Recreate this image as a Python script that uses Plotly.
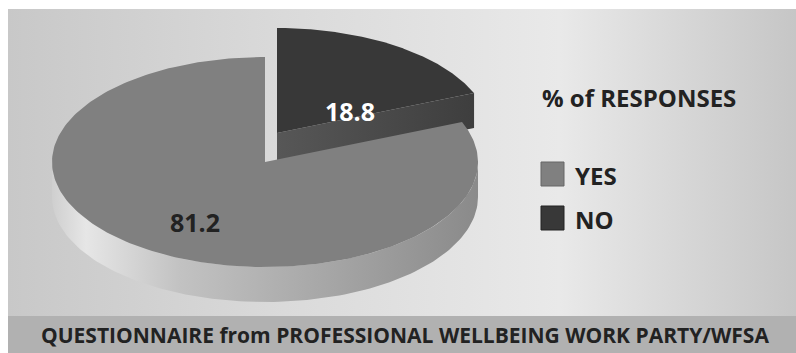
import numpy as np
import plotly.graph_objects as go

# Survey data
categories = ["YES", "NO"]
values = [81.2, 18.8]
slice_colors = ["#808080", "#383838"]
label_colors = ["#222222", "#ffffff"]
legend_title = "% of RESPONSES"
footer_text = "QUESTIONNAIRE from PROFESSIONAL WELLBEING WORK PARTY/WFSA"

# Canvas / pie geometry (pixels)
W, H = 796, 353
CX, CY = 265, 162          # pie centre
RA, RB = 213, 105          # ellipse radii (tilted disc)
DEPTH = 35                 # disc thickness
EXPLODE = {"NO": (12, -29)}
LABEL_POS = {"YES": (195, 222), "NO": (350, 111)}
FONT = "Open Sans"


def pt(theta_deg, dx=0.0, dy=0.0, down=0.0):
    t = np.radians(theta_deg)
    return CX + dx + RA * np.cos(t), CY + dy - RB * np.sin(t) + down


fig = go.Figure()

# background panels
fig.add_trace(go.Scatter(
    x=[8, W, W, 8, 8], y=[9, 9, 316, 316, 9], mode="lines", line=dict(width=0),
    fill="toself", hoverinfo="skip",
    fillgradient=dict(type="horizontal", colorscale=[
        [0, "#c8c8c8"], [0.35, "#dadada"], [0.7, "#e9e9e9"], [1, "#c6c6c6"]])))
fig.add_trace(go.Scatter(
    x=[8, W, W, 8, 8], y=[316, 316, H, H, 316], mode="lines", line=dict(width=0),
    fill="toself", fillcolor="#b1b1b1", hoverinfo="skip"))

# slice angles: counter-clockwise from 12 o'clock
total = sum(values)
starts, ends = [], []
a0 = 90.0
for v in values:
    starts.append(a0)
    a0 += 360.0 * v / total
    ends.append(a0)

for cat, v, col, s, e in zip(categories, values, slice_colors, starts, ends):
    dx, dy = EXPLODE.get(cat, (0, 0))
    # front curved wall (visible where the rim faces the viewer)
    lo, hi = max(s, 180.0), min(e, 360.0)
    if hi > lo:
        th = np.linspace(lo, hi, 120)
        xt, yt = pt(th, dx, dy)
        xb, yb = pt(th[::-1], dx, dy, DEPTH)
        fig.add_trace(go.Scatter(
            x=np.r_[xt, xb, xt[:1]], y=np.r_[yt, yb, yt[:1]], mode="lines",
            line=dict(width=0), fill="toself", hoverinfo="skip",
            fillgradient=dict(type="horizontal", colorscale=[
                [0, "#cfcfcf"], [0.08, "#e6e6e6"], [0.3, "#c2c2c2"],
                [0.6, "#aaaaaa"], [1, "#8a8a8a"]])))
    # radial cut face at the slice's start edge (front-facing when exploded)
    if cat in EXPLODE:
        ang = s % 360
        ex, ey = pt(ang, dx, dy)
        cx0, cy0 = CX + dx, CY + dy
        fig.add_trace(go.Scatter(
            x=[cx0, ex, ex, cx0, cx0], y=[cy0, ey, ey + DEPTH, cy0 + DEPTH, cy0],
            mode="lines", line=dict(width=0), fill="toself", hoverinfo="skip",
            fillgradient=dict(type="horizontal", colorscale=[
                [0, "#575757"], [1, "#3e3e3e"]])))

for cat, v, col, s, e in zip(categories, values, slice_colors, starts, ends):
    dx, dy = EXPLODE.get(cat, (0, 0))
    th = np.linspace(s, e, 240)
    xa, ya = pt(th, dx, dy)
    fig.add_trace(go.Scatter(
        x=np.r_[CX + dx, xa, CX + dx], y=np.r_[CY + dy, ya, CY + dy],
        mode="lines", line=dict(width=0), fill="toself", fillcolor=col,
        hoverinfo="skip"))

# value labels
for cat, v, lc in zip(categories, values, label_colors):
    lx, ly = LABEL_POS[cat]
    fig.add_annotation(x=lx, y=ly, text=f"{v:.1f}", showarrow=False,
                       font=dict(family=FONT, size=25, color=lc, weight="bold"))

# legend
fig.add_annotation(x=540, y=97, text=legend_title, showarrow=False, xanchor="left",
                   font=dict(family=FONT, size=24, color="#222222", weight="bold"))
for i, (cat, col) in enumerate(zip(categories, slice_colors)):
    yc = 174 + 44 * i
    fig.add_trace(go.Scatter(
        x=[541, 564, 564, 541, 541], y=[yc - 12, yc - 12, yc + 12, yc + 12, yc - 12],
        mode="lines", line=dict(width=1, color="#666666" if i == 0 else "#222222"),
        fill="toself", fillcolor=col, hoverinfo="skip"))
    fig.add_annotation(x=573, y=yc + 1, text=cat, showarrow=False, xanchor="left",
                       font=dict(family=FONT, size=24, color="#222222", weight="bold"))

fig.add_annotation(x=405, y=335, text=footer_text, showarrow=False,
                   font=dict(family=FONT, size=21, color="#222222", weight="bold"))

fig.update_layout(
    width=W, height=H, margin=dict(l=0, r=0, t=0, b=0),
    paper_bgcolor="white", plot_bgcolor="white", showlegend=False,
    xaxis=dict(range=[0, W], visible=False, fixedrange=True),
    yaxis=dict(range=[H, 0], visible=False, fixedrange=True),
)
fig.write_html("out.html")
